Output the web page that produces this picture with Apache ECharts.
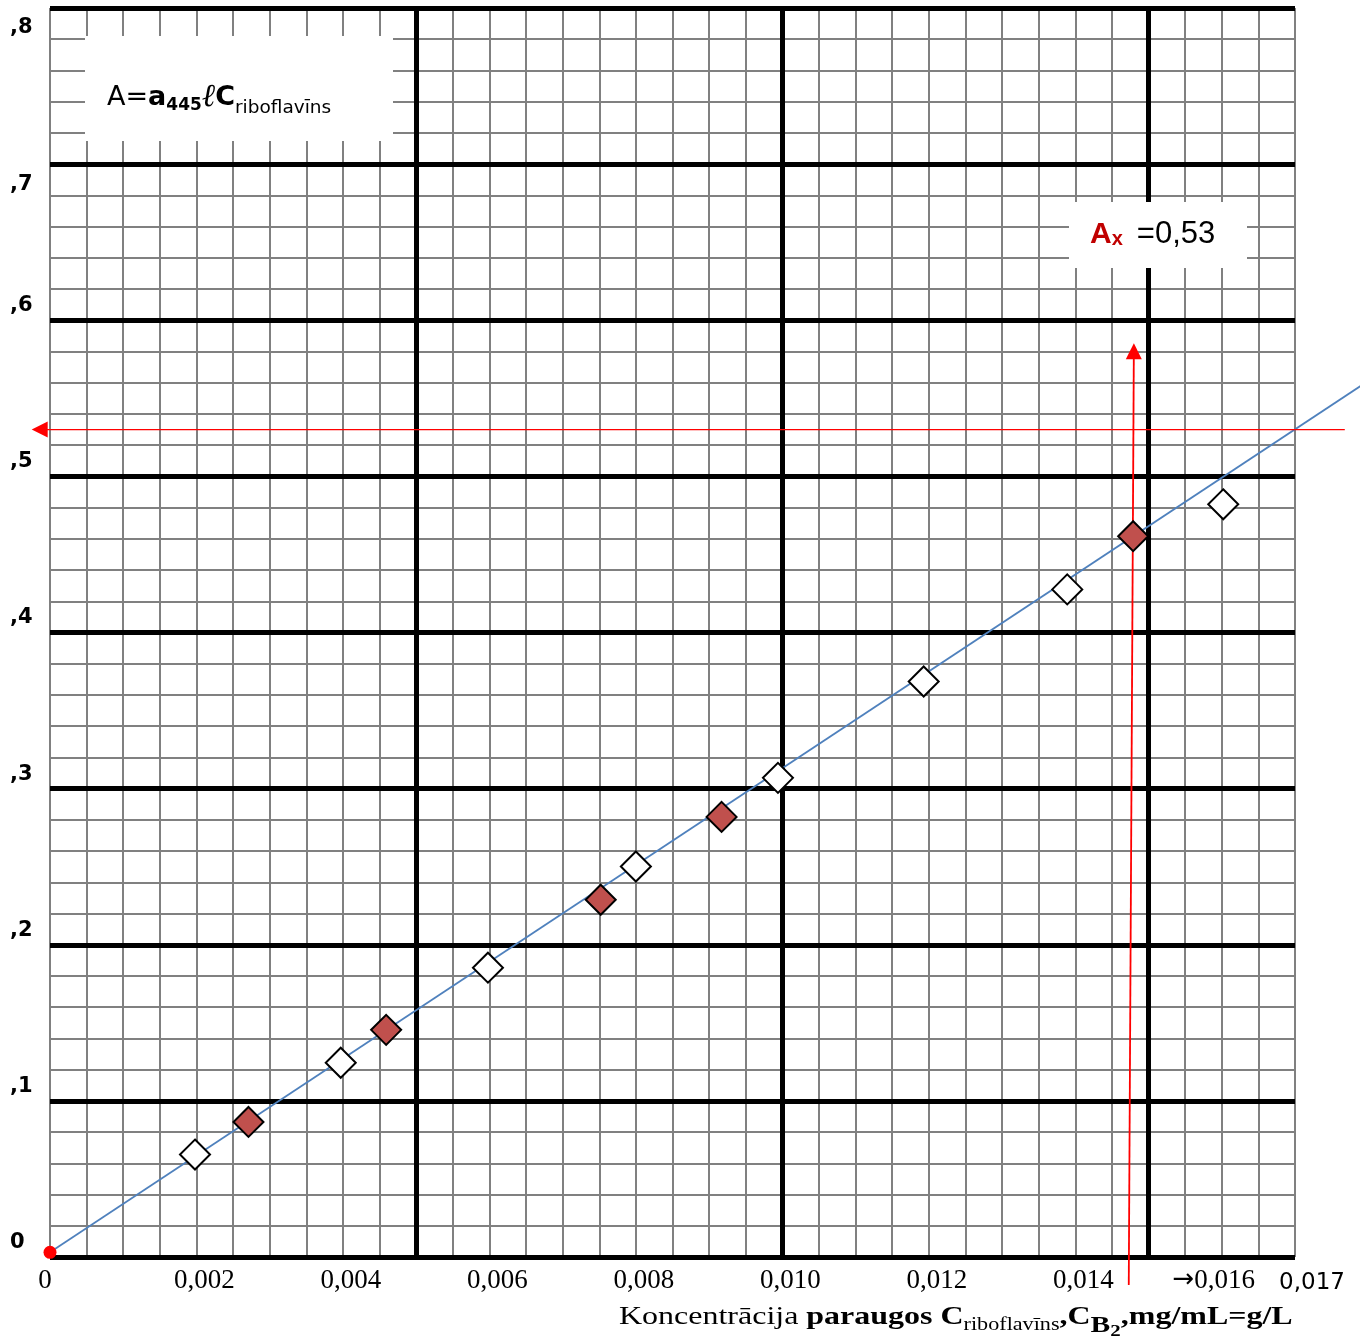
<!DOCTYPE html>
<html>
<head>
<meta charset="utf-8">
<script src="https://cdn.jsdelivr.net/npm/echarts@6.0.0/dist/echarts.min.js"></script>
<style>
  html, body { margin: 0; padding: 0; background: #fff; }
  #chart { width: 1360px; height: 1344px; }
</style>
</head>
<body>
<div id="chart"></div>
<script>
// kalibrēšanas punkti (balti rombi) un paraugi (sarkani rombi)
const whiteC = [0.00198, 0.00397, 0.00598, 0.00800, 0.00994, 0.01193, 0.01389, 0.01602];
const whiteA = [0.0656, 0.1244, 0.1853, 0.2501, 0.3069, 0.3686, 0.4276, 0.4821];
const redC = [0.00271, 0.00459, 0.00752, 0.00917, 0.01479];
const redA = [0.0865, 0.1455, 0.2288, 0.2819, 0.4617];
// taisne caur nulli
const fitC = [0, 0.0179];
const fitA = [0.003, 0.558];
// Ax = 0,53 bultas (no sākuma līdz smailei)
const hArrowC = [0.01768, -0.00025];
const hArrowA = [0.53, 0.53];
const vArrowC = [0.01473, 0.0148];
const vArrowA = [-0.018, 0.5853];
const xTickLabels = ['0', '0,002', '0,004', '0,006', '0,008', '0,010', '0,012', '0,014', '→0,016', '0,017'];
const yTickLabels = ['0', ',1', ',2', ',3', ',4', ',5', ',6', ',7', ',8'];

const X_MAX = 0.017, Y_MAX = 0.8;
const gray = '#808080';

let myChart = echarts.init(document.getElementById('chart'));

const hidden = { axisLine: { show: false }, axisTick: { show: false }, axisLabel: { show: false } };

// taisne / bulta ar custom sēriju, lai nekas netiktu apgriezts pie režģa malas
function segment(color, width, head) {
  return function (params, api) {
    const p0 = api.coord([api.value(0), api.value(1)]);
    const p1 = api.coord([api.value(2), api.value(3)]);
    const children = [];
    let end = p1;
    if (head) {
      const dx = p1[0] - p0[0], dy = p1[1] - p0[1];
      const len = Math.sqrt(dx * dx + dy * dy);
      const ux = dx / len, uy = dy / len;
      const bx = p1[0] - ux * head[0], by = p1[1] - uy * head[0];
      end = [bx + ux * 2, by + uy * 2];
      children.push({
        type: 'polygon', z2: 2,
        shape: { points: [p1, [bx - uy * head[1], by + ux * head[1]], [bx + uy * head[1], by - ux * head[1]]] },
        style: { fill: color }
      });
    }
    children.unshift({
      type: 'line',
      shape: { x1: p0[0], y1: p0[1], x2: end[0], y2: end[1] },
      style: { stroke: color, lineWidth: width }
    });
    return { type: 'group', children: children };
  };
}

myChart.setOption({
  animation: false,
  grid: { left: 50, right: 65, top: 8, bottom: 87 },
  xAxis: [
    Object.assign({ type: 'value', min: 0, max: X_MAX, interval: 0.0005, position: 'bottom', z: 0,
      splitLine: { show: true, lineStyle: { color: gray, width: 2 } } }, hidden),
    Object.assign({ type: 'value', min: 0, max: X_MAX, interval: 0.005, position: 'bottom', z: 1,
      splitLine: { show: true, showMinLine: false, showMaxLine: false, lineStyle: { color: '#000', width: 5 } } }, hidden),
    {
      type: 'value', min: 0, max: X_MAX, interval: 0.002, position: 'bottom', z: 2,
      splitLine: { show: false }, axisLine: { show: false }, axisTick: { show: false },
      axisLabel: {
        margin: 10, verticalAlign: 'top',
        formatter: function (v) {
          const i = v >= X_MAX - 1e-9 ? xTickLabels.length - 1 : Math.round(v / 0.002);
          const t = xTickLabels[i];
          if (i === 0) return '{z|' + t + '}';
          if (i === xTickLabels.length - 1) return '{s|' + t + '}';
          if (t.charAt(0) === '→') return '{ar|→}{m|' + t.slice(1) + '}';
          return '{n|' + t + '}';
        },
        rich: {
          z: { fontFamily: 'Liberation Serif', fontSize: 27, color: '#000', padding: [0, 10, 0, 0] },
          n: { fontFamily: 'Liberation Serif', fontSize: 27, color: '#000', padding: [0, 0, 0, 16] },
          ar: { fontFamily: 'DejaVu Sans', fontSize: 26, color: '#000' },
          m: { fontFamily: 'Liberation Serif', fontSize: 27, color: '#000', padding: [0, 16, 0, 0] },
          s: { fontFamily: 'DejaVu Sans', fontSize: 23, color: '#000', padding: [5, 0, 0, 34] }
        }
      }
    }
  ],
  yAxis: [
    Object.assign({ type: 'value', min: 0, max: Y_MAX, interval: 0.02, position: 'left', z: 0,
      splitLine: { show: true, lineStyle: { color: gray, width: 2 } } }, hidden),
    {
      type: 'value', min: 0, max: Y_MAX, interval: 0.1, position: 'left', z: 1,
      splitLine: { show: true, lineStyle: { color: '#000', width: 5 } },
      axisLine: { show: false }, axisTick: { show: false },
      axisLabel: {
        align: 'left', margin: 40,
        formatter: function (v) {
          const i = Math.round(v / 0.1);
          return (i >= 7 ? '{dn|' : '{up|') + yTickLabels[i] + '}';
        },
        rich: {
          up: { fontFamily: 'DejaVu Sans', fontWeight: 'bold', fontSize: 21, color: '#000', padding: [0, 0, 29, 0] },
          dn: { fontFamily: 'DejaVu Sans', fontWeight: 'bold', fontSize: 21, color: '#000', padding: [40, 0, 0, 0] }
        }
      }
    }
  ],
  graphic: [
    { type: 'rect', shape: { x: 85, y: 36, width: 308, height: 105 }, style: { fill: '#fff' }, z: 50 },
    { type: 'rect', shape: { x: 1069, y: 202, width: 178, height: 66 }, style: { fill: '#fff' }, z: 50 },
    {
      type: 'text', left: 107, top: 82, z: 60,
      style: {
        text: '{n|A=}{b|a}{bs|445}{i|ℓ}{b|C}{s|riboflavīns}',
        rich: {
          n: { fontFamily: 'DejaVu Sans', fontSize: 27, fill: '#000' },
          b: { fontFamily: 'DejaVu Sans', fontWeight: 'bold', fontSize: 27, fill: '#000' },
          bs: { fontFamily: 'DejaVu Sans', fontWeight: 'bold', fontSize: 17, fill: '#000', padding: [16, 0, 0, 0] },
          i: { fontFamily: 'DejaVu Serif', fontStyle: 'italic', fontSize: 32, fill: '#000' },
          s: { fontFamily: 'DejaVu Sans', fontSize: 18.5, fill: '#000', padding: [20, 0, 0, 0] }
        }
      }
    },
    {
      type: 'text', left: 1090, top: 219, z: 60,
      style: {
        text: '{a|A}{x|x}{n|=0,53}',
        rich: {
          a: { fontFamily: 'Liberation Sans', fontWeight: 'bold', fontSize: 30, fill: '#C00000' },
          x: { fontFamily: 'Liberation Sans', fontWeight: 'bold', fontSize: 20, fill: '#C00000', padding: [10, 0, 0, 0] },
          n: { fontFamily: 'Liberation Sans', fontSize: 31, fill: '#000', padding: [0, 0, 0, 14] }
        }
      }
    },
    {
      type: 'text', left: 619, top: 1304, z: 60, scaleX: 1.23,
      style: {
        text: '{n|Koncentrācija }{b|paraugos C}{s|riboflavīns}{b|,C}{bb|B}{b2|2}{b|,mg/mL=g/L}',
        rich: {
          n: { fontFamily: 'Liberation Serif', fontSize: 26, fill: '#000' },
          b: { fontFamily: 'Liberation Serif', fontWeight: 'bold', fontSize: 26, fill: '#000' },
          s: { fontFamily: 'Liberation Serif', fontSize: 18, fill: '#000', padding: [16, 0, 0, 0] },
          bb: { fontFamily: 'Liberation Serif', fontWeight: 'bold', fontSize: 24, fill: '#000', padding: [18, 0, 0, 0] },
          b2: { fontFamily: 'Liberation Serif', fontWeight: 'bold', fontSize: 17, fill: '#000', padding: [30, 0, 0, 0] }
        }
      }
    }
  ],
  series: [
    {
      name: 'kalibrēšana', type: 'scatter', symbol: 'diamond', symbolSize: 30, clip: false,
      itemStyle: { color: '#fff', borderColor: '#000', borderWidth: 2, opacity: 1 },
      data: whiteC.map((c, i) => [c, whiteA[i]])
    },
    {
      name: 'paraugi', type: 'scatter', symbol: 'diamond', symbolSize: 30, clip: false,
      itemStyle: { color: '#C0504D', borderColor: '#000', borderWidth: 2, opacity: 1 },
      data: redC.map((c, i) => [c, redA[i]])
    },
    {
      name: 'taisne', type: 'custom', clip: false,
      encode: { x: [0, 2], y: [1, 3] },
      renderItem: segment('#4F81BD', 1.8, null),
      data: [[fitC[0], fitA[0], fitC[1], fitA[1]]]
    },
    {
      name: 'Ax', type: 'custom', clip: false,
      encode: { x: [0, 2], y: [1, 3] },
      renderItem: segment('#FF0000', 1.3, [16, 8]),
      data: [[hArrowC[0], hArrowA[0], hArrowC[1], hArrowA[1]]]
    },
    {
      name: 'Cx', type: 'custom', clip: false,
      encode: { x: [0, 2], y: [1, 3] },
      renderItem: segment('#FF0000', 1.8, [16, 8]),
      data: [[vArrowC[0], vArrowA[0], vArrowC[1], vArrowA[1]]]
    },
    {
      name: '0', type: 'scatter', symbol: 'circle', symbolSize: 13, clip: false,
      itemStyle: { color: '#FF0000', opacity: 1 },
      data: [[fitC[0], fitA[0]]]
    }
  ]
});
</script>
</body>
</html>
